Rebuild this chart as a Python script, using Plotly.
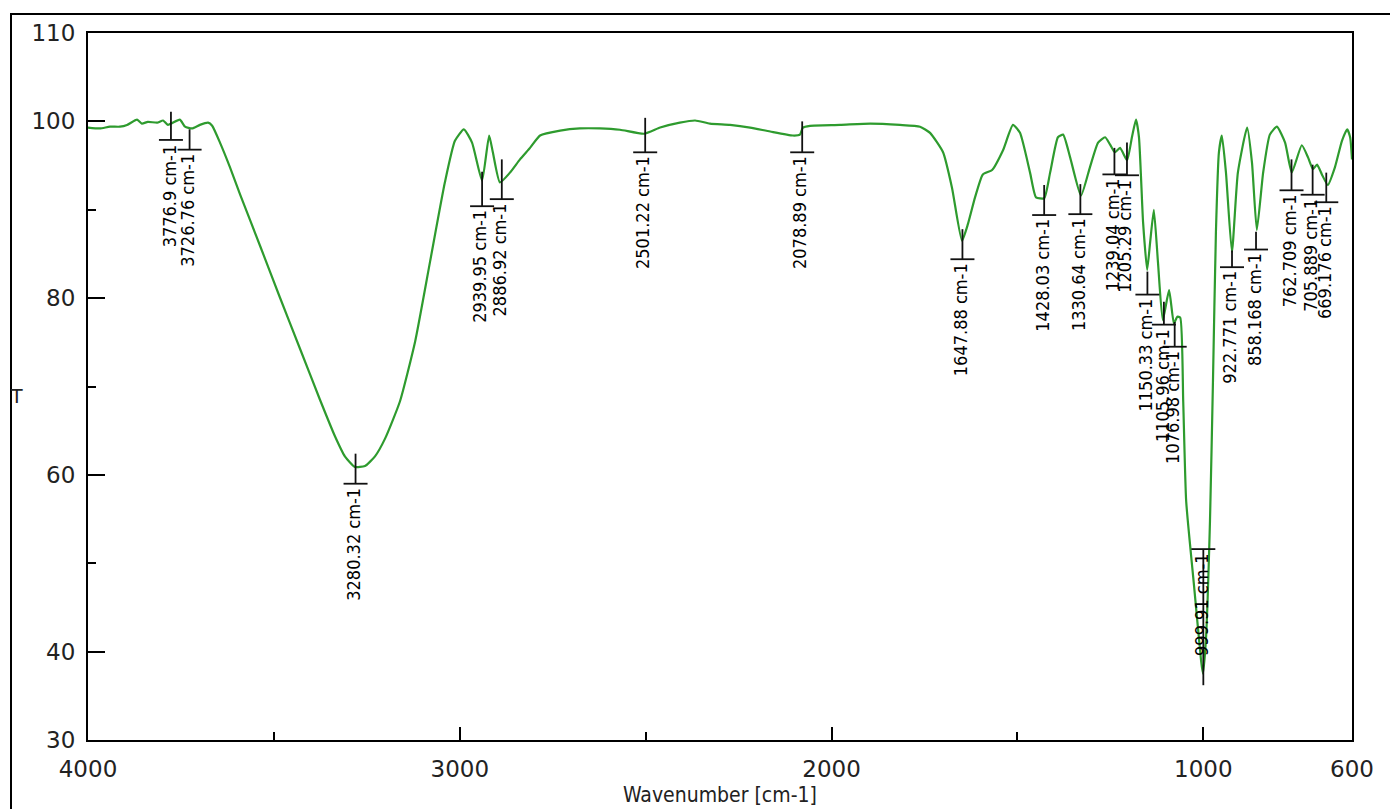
import plotly.graph_objects as go

# ---------------- data ----------------
wavenumber = [
    4000, 3968, 3941, 3914, 3895, 3868, 3855, 3839, 3814, 3798, 3785, 3753, 3739, 3720,
    3699, 3677, 3666, 3645, 3618, 3591, 3537, 3484, 3430, 3376, 3336, 3309, 3282, 3255,
    3228, 3201, 3161, 3120, 3080, 3040, 3013, 2989, 2967, 2940, 2921, 2911, 2892, 2865,
    2838, 2811, 2784, 2730, 2677, 2623, 2569, 2504, 2461, 2408, 2367, 2327, 2273, 2219,
    2165, 2104, 2085, 2077, 2058, 1977, 1896, 1816, 1762, 1735, 1700, 1676, 1649, 1633,
    1614, 1593, 1568, 1539, 1512, 1493, 1466, 1450, 1428, 1412, 1391, 1377, 1358, 1329,
    1305, 1283, 1264, 1251, 1238, 1224, 1205, 1192, 1181, 1173, 1162, 1151, 1143, 1133,
    1122, 1109, 1092, 1079, 1070, 1062, 1054, 1046, 1025, 1006, 1001, 993, 982, 974,
    966, 958, 950, 939, 923, 907, 882, 869, 856, 839, 821, 802, 780, 762, 735, 718,
    705, 694, 681, 665, 646, 627, 613, 605, 600,
]
transmittance = [
    99.3, 99.2, 99.4, 99.4, 99.6, 100.2, 99.75, 99.95, 99.85, 100.1, 99.6, 100.2, 99.4, 99.2,
    99.6, 99.85, 99.5, 97.6, 94.8, 91.75, 85.9, 80.1, 74.3, 68.5, 64.4, 62.1, 60.9, 61.0,
    62.1, 64.1, 68.3, 75.1, 84.1, 93.1, 97.8, 99.1, 97.6, 93.3, 98.4, 96.5, 93.1, 94.2,
    95.7, 97.0, 98.4, 98.95, 99.2, 99.2, 99.05, 98.6, 99.3, 99.85, 100.1, 99.75, 99.6, 99.3,
    98.85, 98.4, 98.5, 99.3, 99.5, 99.6, 99.75, 99.6, 99.4, 98.7, 96.5, 92.5, 86.5, 88.4,
    91.4, 94.0, 94.5, 96.7, 99.6, 98.7, 94.2, 91.4, 91.3, 94.2, 98.2, 98.5, 95.9, 91.6,
    94.8, 97.6, 98.2, 97.4, 96.5, 97.0, 95.6, 98.2, 100.2, 98.2, 88.6, 83.2, 86.3, 90.0,
    84.1, 77.5, 80.9, 77.1, 77.9, 77.8, 68.3, 57.0, 47.5, 39.0, 37.5, 41.3, 54.8, 70.6,
    87.5, 96.5, 98.4, 94.2, 85.2, 94.2, 99.3, 95.3, 87.7, 94.2, 98.5, 99.4, 97.6, 94.2, 97.3, 95.9,
    94.6, 95.1, 94.0, 92.8, 94.8, 97.8, 99.1, 98.2, 95.7,
]

peak_wavenumbers = [3776.9, 3726.76, 3280.32, 2939.95, 2886.92, 2501.22, 2078.89, 1647.88,
                    1428.03, 1330.64, 1239.04, 1205.29, 1150.33, 1105.96, 1076.98, 999.91,
                    922.771, 858.168, 762.709, 705.889, 669.176]
peak_labels = ["3776.9 cm-1", "3726.76 cm-1", "3280.32 cm-1", "2939.95 cm-1", "2886.92 cm-1",
               "2501.22 cm-1", "2078.89 cm-1", "1647.88 cm-1", "1428.03 cm-1", "1330.64 cm-1",
               "1239.04 cm-1", "1205.29 cm-1", "1150.33 cm-1", "1105.96 cm-1", "1076.98 cm-1",
               "999.91 cm-1", "922.771 cm-1", "858.168 cm-1", "762.709 cm-1", "705.889 cm-1",
               "669.176 cm-1"]
# marker line extents and label anchor level (in T units)
marker_top = [101.1, 99.1, 62.4, 94.3, 95.7, 100.4, 100.0, 87.8, 92.8, 92.9, 97.0, 97.6,
              83.0, 79.6, 77.3, 51.6, 85.4, 87.5, 95.7, 95.1, 94.2]
marker_bottom = [97.9, 96.8, 59.0, 90.4, 91.2, 96.5, 96.5, 84.4, 89.4, 89.5, 94.0, 93.9,
                 80.4, 77.0, 74.5, 36.2, 83.5, 85.5, 92.2, 91.7, 90.85]
label_level = [97.9, 96.8, 59.0, 90.4, 91.2, 96.5, 96.5, 84.4, 89.4, 89.5, 94.0, 93.9,
               80.4, 77.0, 74.5, 51.6, 83.5, 85.5, 92.2, 91.7, 90.85]

x_tick_values = [4000, 3000, 2000, 1000, 600]
x_minor_values = [3500, 2500, 1500]
y_tick_values = [30, 40, 60, 80, 100, 110]
y_minor_values = [50, 70, 90]

# ---------------- figure ----------------
# the page body adds an 8 px offset; figure coordinates below are page coords - 8
W, H = 1390, 801
ML, MR, MT, MB = 80, 46, 22, 69
PW, PH = W - ML - MR, H - MT - MB
OFF = 8


def px_x(page_x):
    return (page_x - OFF - ML) / PW


def px_y(page_y):
    return (H - MB - (page_y - OFF)) / PH


fig = go.Figure()
fig.add_trace(go.Scatter(
    x=wavenumber, y=transmittance, mode="lines",
    line=dict(color="#2e9b2e", width=2.2, shape="spline", smoothing=0.5),
    hoverinfo="skip", showlegend=False,
))

# peak marker lines (vertical line + small horizontal tick)
half_tick = 12 * 3400 / PW  # 12 px in wavenumber units
mx, my = [], []
for wn, t0, t1, lv in zip(peak_wavenumbers, marker_top, marker_bottom, label_level):
    mx += [wn, wn, None, wn + half_tick, wn - half_tick, None]
    my += [t0, t1, None, lv, lv, None]
fig.add_trace(go.Scatter(x=mx, y=my, mode="lines", line=dict(color="#111111", width=1.8),
                         hoverinfo="skip", showlegend=False))

label_font = dict(family="DejaVu Sans Condensed, DejaVu Sans, sans-serif",
                  size=18, color="#000000")
for wn, lv, txt in zip(peak_wavenumbers, label_level, peak_labels):
    fig.add_annotation(x=wn, y=lv, text=txt, textangle=-90, showarrow=False,
                       xanchor="center", yanchor="top", yshift=-2, xshift=-2,
                       font=label_font)

tick_font = dict(family="DejaVu Sans, sans-serif", size=23, color="#222222")
fig.update_xaxes(
    range=[4000, 600], tickvals=x_tick_values, ticktext=[str(v) for v in x_tick_values],
    ticks="inside", ticklen=13, tickwidth=2, tickcolor="black", ticklabelstandoff=7,
    minor=dict(tickvals=x_minor_values, ticks="inside", ticklen=8, tickwidth=2, tickcolor="black"),
    showline=True, linecolor="black", linewidth=2, mirror=True,
    showgrid=False, zeroline=False, tickfont=tick_font,
)
fig.update_yaxes(
    range=[30, 110], tickvals=y_tick_values, ticktext=[str(v) for v in y_tick_values],
    ticks="inside", ticklen=17, tickwidth=2, tickcolor="black", ticklabelstandoff=6,
    minor=dict(tickvals=y_minor_values, ticks="inside", ticklen=8, tickwidth=2, tickcolor="black"),
    showline=True, linecolor="black", linewidth=2, mirror=True,
    showgrid=False, zeroline=False, tickfont=tick_font,
)

# axis titles
fig.add_annotation(xref="paper", yref="paper", x=0.5, y=px_y(795),
                   text="Wavenumber [cm-1]", showarrow=False, xanchor="center", yanchor="middle",
                   font=dict(family="DejaVu Sans Condensed, DejaVu Sans, sans-serif", size=21,
                             color="#222222"))
fig.add_annotation(xref="paper", yref="paper", x=px_x(16), y=px_y(395),
                   text="T", showarrow=False, xanchor="center", yanchor="middle",
                   font=dict(family="DejaVu Sans, sans-serif", size=19, color="#222222"))

# outer frame
fig.add_shape(type="rect", xref="paper", yref="paper",
              x0=px_x(11), x1=px_x(1420), y0=px_y(830), y1=px_y(11),
              line=dict(color="black", width=2), fillcolor="rgba(0,0,0,0)", layer="below")

fig.update_layout(
    width=W, height=H, margin=dict(l=ML, r=MR, t=MT, b=MB),
    paper_bgcolor="white", plot_bgcolor="white", showlegend=False,
)

fig.write_html("out.html")
